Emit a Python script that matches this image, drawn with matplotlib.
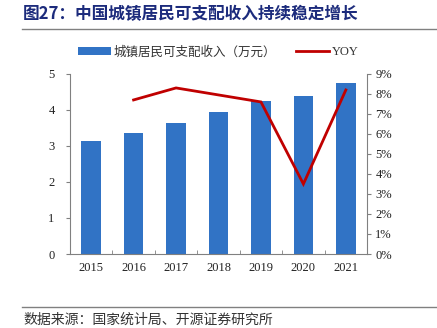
import matplotlib
matplotlib.use("Agg")
import matplotlib.pyplot as plt
from matplotlib.ticker import FixedLocator, MultipleLocator, FuncFormatter

plt.rcParams['font.family'] = ['Noto Sans CJK SC', 'DejaVu Sans']

years = ['2015', '2016', '2017', '2018', '2019', '2020', '2021']
income = [3.13, 3.37, 3.65, 3.94, 4.25, 4.40, 4.76]
yoy_years = ['2016', '2017', '2018', '2019', '2020', '2021']
yoy = [7.7, 8.3, 7.95, 7.6, 3.5, 8.2]

title = '图27：中国城镇居民可支配收入持续稳定增长'
source = '数据来源：国家统计局、开源证券研究所'
bar_label = '城镇居民可支配收入（万元）'
line_label = 'YOY'

BLUE = '#3173C5'
RED = '#C00000'
GRAY = '#808080'
NAVY = '#1C2B7C'

fig = plt.figure(figsize=(4.37, 3.28), dpi=100)
ax = fig.add_axes([0.160, 0.2256, 0.680, 0.549])
ax2 = ax.twinx()

x = list(range(len(years)))
xi = {y: i for i, y in enumerate(years)}
ax.bar(x, income, width=0.46, color=BLUE, zorder=2, label=bar_label)
ax2.plot([xi[y] for y in yoy_years], yoy, color=RED, lw=2.0, zorder=3,
         label=line_label, solid_joinstyle='miter')

ax.set_xlim(-0.5, len(years) - 0.5)
ax.set_ylim(0, 5)
ax2.set_ylim(0, 9)
ax.yaxis.set_major_locator(MultipleLocator(1))
ax2.yaxis.set_major_locator(MultipleLocator(1))
ax2.yaxis.set_major_formatter(FuncFormatter(lambda v, p: f'{v:.0f}%'))

ax.set_xticks(x)
ax.set_xticklabels(years, fontfamily='Liberation Serif', fontsize=9)
ax.xaxis.set_minor_locator(FixedLocator([i + 0.5 for i in range(len(years) - 1)]))
ax.tick_params(axis='x', which='major', length=0, pad=6)
ax.tick_params(axis='x', which='minor', direction='in', length=3, color=GRAY)
ax.tick_params(axis='y', direction='out', length=3, color=GRAY, pad=8)
ax2.tick_params(axis='y', direction='out', length=3, color=GRAY, pad=3)
for lab in ax.get_yticklabels() + ax2.get_yticklabels():
    lab.set_fontfamily('Liberation Serif')
    lab.set_fontsize(9)
    lab.set_color('#222222')
for lab in ax.get_xticklabels():
    lab.set_color('#222222')

for a in (ax, ax2):
    a.spines['top'].set_visible(False)
    for s in ('left', 'right', 'bottom'):
        a.spines[s].set_color(GRAY)
        a.spines[s].set_linewidth(0.8)
ax.spines['right'].set_visible(False)
ax2.spines['left'].set_visible(False)
ax2.spines['bottom'].set_visible(False)

h1, l1 = ax.get_legend_handles_labels()
h2, l2 = ax2.get_legend_handles_labels()
leg = fig.legend(h1 + h2, l1 + l2, loc='center', bbox_to_anchor=(0.5, 0.842),
                 ncol=2, frameon=False, fontsize=9, handlelength=2.6,
                 handleheight=0.7, columnspacing=1.6, handletextpad=0.25)
for t in leg.get_texts():
    t.set_color('#333333')
leg.get_texts()[1].set_fontfamily('Liberation Serif')

fig.text(0.053, 0.957, title, fontsize=12, fontweight='bold', color=NAVY,
         ha='left', va='center')
fig.add_artist(plt.Line2D([0.05, 1.0], [0.911, 0.911], color=GRAY, lw=1.0,
                          transform=fig.transFigure))
fig.add_artist(plt.Line2D([0.05, 1.0], [0.065, 0.065], color=GRAY, lw=1.0,
                          transform=fig.transFigure))
fig.text(0.053, 0.025, source, fontsize=10, color='#333333', ha='left',
         va='center')

fig.savefig('out.png', dpi=100)
